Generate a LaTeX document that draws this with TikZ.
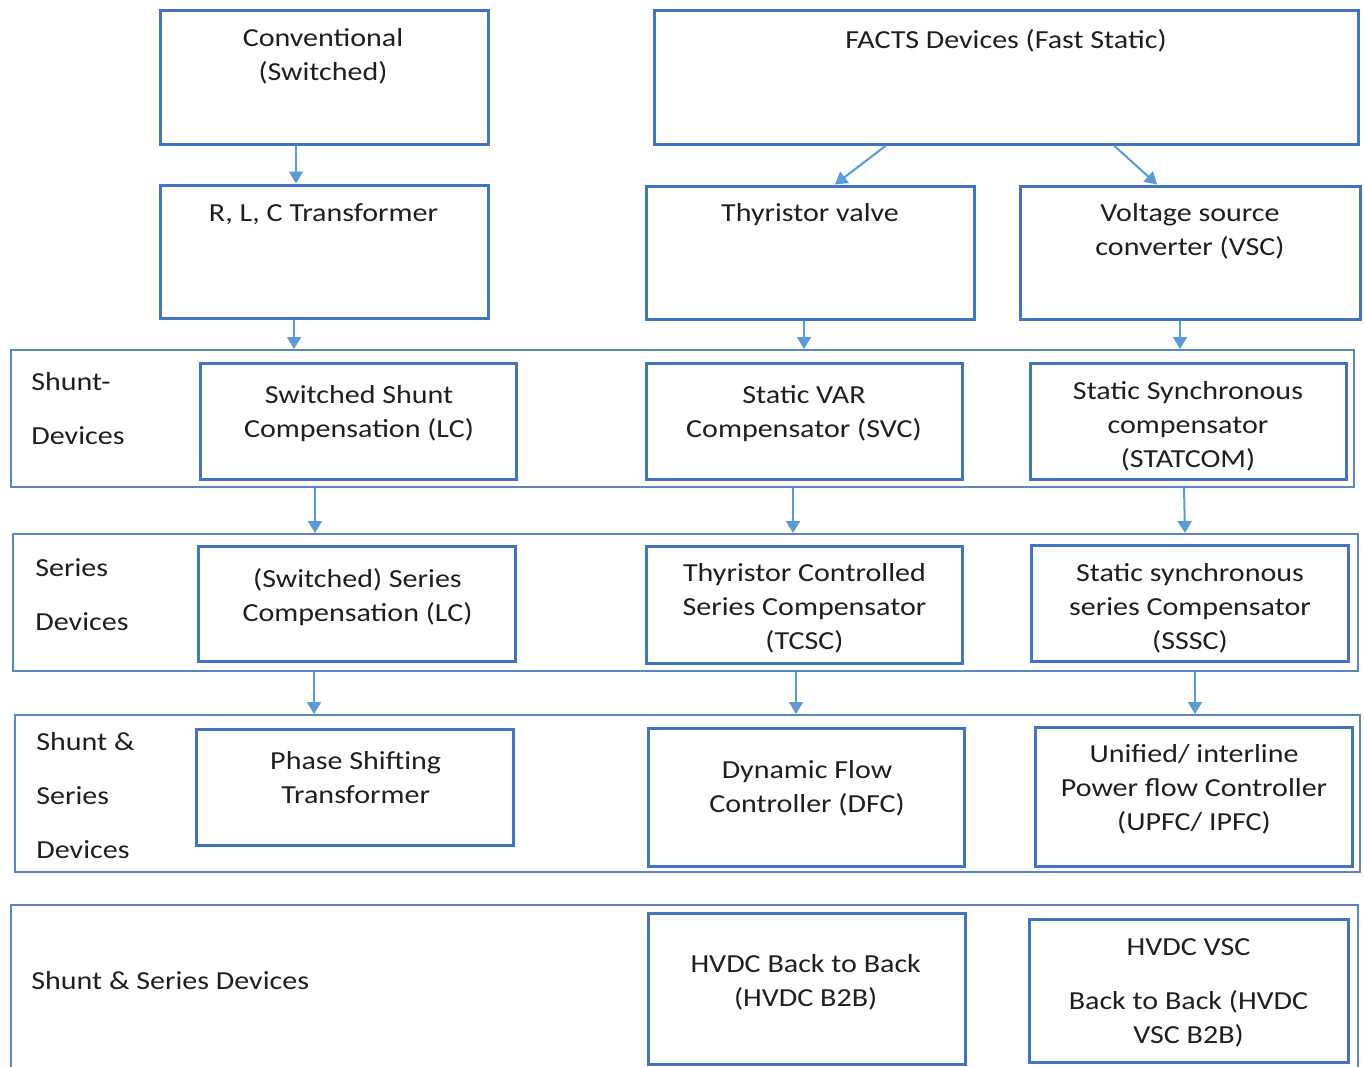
\documentclass[tikz,border=0pt]{standalone}
\usepackage{fontspec}
\setmainfont[FakeStretch=1.155]{Carlito}
\usetikzlibrary{arrows.meta,fit}
\definecolor{boxblue}{HTML}{4472C4}
\definecolor{grpblue}{HTML}{5B86C2}
\definecolor{arrblue}{HTML}{5B9BD5}
% invisible strut fixing the height of a first text line
\newcommand\lstrut{\rule[-0.2em]{0pt}{0.8em}}
\begin{document}
\begin{tikzpicture}[x=0.5pt,y=-0.5pt,
  box/.style={draw=boxblue, line width=1.5pt, inner sep=0pt},
  grp/.style={draw=grpblue, line width=1pt, inner sep=0pt},
  txt/.style={anchor=north, align=center, inner sep=0pt, yshift=-1.5pt,
    font=\fontsize{13}{17}\selectfont, text=black!88},
  side/.style={anchor=north west, align=left, inner sep=0pt, yshift=-1.5pt,
    font=\fontsize{13}{17}\selectfont, text=black!88},
  arr/.style={draw=arrblue, line width=1pt, -{Triangle[length=6pt,width=7pt]}}]
\useasboundingbox (0,0) rectangle (1364,1066);
\clip (0,0) rectangle (1364,1066);
\fill[white] (0,0) rectangle (1364,1066);

% top level
\node[box, fit={(160,10) (488,144)}] (conv) {};
\node[box, fit={(654,10) (1358,144)}] (facts) {};
\node[txt] (convt) at (323,25) {\lstrut Conventional\\(Switched)};
\node[txt] (factst) at (1006,26) {\lstrut FACTS Devices (Fast Static)};

% second level
\node[box, fit={(160,185) (488,318)}] (rlc) {};
\node[box, fit={(646,186) (974,319)}] (thy) {};
\node[box, fit={(1020,186) (1360,319)}] (vsc) {};
\node[txt] (rlct) at (323.5,200) {\lstrut R, L, C Transformer};
\node[txt] (thyt) at (810,200) {\lstrut Thyristor valve};
\node[txt] (vsct) at (1190,200) {\lstrut Voltage source\\converter (VSC)};

% shunt devices
\node[grp, fit={(11,350) (1354,487)}] (gshunt) {};
\node[side] (gshuntt) at (31,369) {\lstrut Shunt-\\[10pt]Devices};
\node[box, fit={(200,363) (516,479)}] (swsh) {};
\node[box, fit={(646,363) (962,479)}] (svc) {};
\node[box, fit={(1030,363) (1346,479)}] (stat) {};
\node[txt] (swsht) at (359,382) {\lstrut Switched Shunt\\Compensation (LC)};
\node[txt] (svct) at (804,382) {\lstrut Static VAR\\Compensator (SVC)};
\node[txt] (statt) at (1188,378) {\lstrut Static Synchronous\\compensator\\(STATCOM)};

% series devices
\node[grp, fit={(13,534) (1358,671)}] (gseries) {};
\node[side] (gseriest) at (35,555) {\lstrut Series\\[10pt]Devices};
\node[box, fit={(198,546) (515,661)}] (swse) {};
\node[box, fit={(646,546) (962,663)}] (tcsc) {};
\node[box, fit={(1031,545) (1348,661)}] (sssc) {};
\node[txt] (swset) at (357.5,565) {\lstrut (Switched) Series\\Compensation (LC)};
\node[txt] (tcsct) at (804.5,560) {\lstrut Thyristor Controlled\\Series Compensator\\(TCSC)};
\node[txt] (sssct) at (1190,560) {\lstrut Static synchronous\\series Compensator\\(SSSC)};

% shunt and series devices
\node[grp, fit={(15,715) (1360,872)}] (gboth) {};
\node[side] (gbotht) at (36,729) {\lstrut Shunt \&\\[10pt]Series\\[10pt]Devices};
\node[box, fit={(196,729) (513,845)}] (pst) {};
\node[box, fit={(648,728) (964,866)}] (dfc) {};
\node[box, fit={(1035,727) (1352,866)}] (upfc) {};
\node[txt] (pstt) at (355.7,748) {\lstrut Phase Shifting\\Transformer};
\node[txt] (dfct) at (807,757) {\lstrut Dynamic Flow\\Controller (DFC)};
\node[txt] (upfct) at (1194,741) {\lstrut Unified/ interline\\Power flow Controller\\(UPFC/ IPFC)};

% back to back links
\node[grp, fit={(11,905) (1358,1085)}] (ghvdc) {};
\node[side] (ghvdct) at (31,968) {\lstrut Shunt \& Series Devices};
\node[box, fit={(648,913) (965,1064)}] (b2b) {};
\node[box, fit={(1029,919) (1348,1062)}] (vscb2b) {};
\node[txt] (b2bt) at (805.7,951) {\lstrut HVDC Back to Back\\(HVDC B2B)};
\node[txt] (vscb2bt) at (1188.5,935) {\lstrut HVDC VSC\\[10pt]Back to Back (HVDC\\VSC B2B)};

% connectors
\draw[arr] (296,0 |- conv.south) -- (296,0 |- rlc.north);
\draw[arr] (886,0 |- facts.south) -- (835,0 |- thy.north);
\draw[arr] (1114,0 |- facts.south) -- (1157,0 |- vsc.north);
\draw[arr] (294,0 |- rlc.south) -- (294,0 |- gshunt.north);
\draw[arr] (804,0 |- thy.south) -- (804,0 |- gshunt.north);
\draw[arr] (1180,0 |- vsc.south) -- (1180,0 |- gshunt.north);
\draw[arr] (315,0 |- gshunt.south) -- (315,0 |- gseries.north);
\draw[arr] (793,0 |- gshunt.south) -- (793,0 |- gseries.north);
\draw[arr] (1184,0 |- gshunt.south) -- (1185,0 |- gseries.north);
\draw[arr] (314,0 |- gseries.south) -- (314,0 |- gboth.north);
\draw[arr] (796,0 |- gseries.south) -- (796,0 |- gboth.north);
\draw[arr] (1195,0 |- gseries.south) -- (1195,0 |- gboth.north);
\end{tikzpicture}
\end{document}
